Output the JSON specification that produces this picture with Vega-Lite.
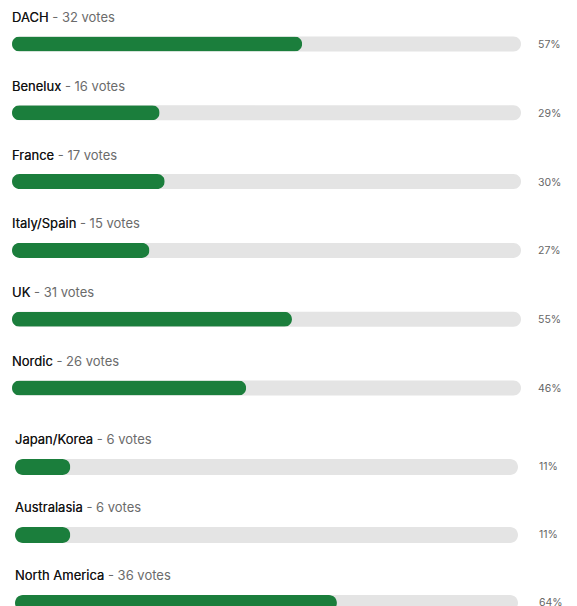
{
  "$schema": "https://vega.github.io/schema/vega-lite/v6.json",
  "background": "white",
  "padding": {"left": 12, "top": 12, "right": 10, "bottom": 0},
  "bounds": "flush",
  "center": true,
  "spacing": 79,
  "config": {"view": {"stroke": null}, "font": "Inter"},
  "datasets": {
    "top": [
      {"region": "DACH", "label": "DACH - 32 votes", "votes": 32, "pct": 57, "pctLabel": "57%"},
      {"region": "Benelux", "label": "Benelux - 16 votes", "votes": 16, "pct": 29, "pctLabel": "29%"},
      {"region": "France", "label": "France - 17 votes", "votes": 17, "pct": 30, "pctLabel": "30%"},
      {"region": "Italy/Spain", "label": "Italy/Spain - 15 votes", "votes": 15, "pct": 27, "pctLabel": "27%"},
      {"region": "UK", "label": "UK - 31 votes", "votes": 31, "pct": 55, "pctLabel": "55%"},
      {"region": "Nordic", "label": "Nordic - 26 votes", "votes": 26, "pct": 46, "pctLabel": "46%"}
    ],
    "bottom": [
      {"region": "Japan/Korea", "label": "Japan/Korea - 6 votes", "votes": 6, "pct": 11, "pctLabel": "11%"},
      {"region": "Australasia", "label": "Australasia - 6 votes", "votes": 6, "pct": 11, "pctLabel": "11%"},
      {"region": "North America", "label": "North America - 36 votes", "votes": 36, "pct": 64, "pctLabel": "64%"}
    ]
  },
  "vconcat": [
    {
      "width": 509,
      "height": 344,
      "data": {"name": "top"},
      "encoding": {
        "y": {"field": "region", "type": "nominal", "sort": null, "axis": null, "scale": {"type": "point", "padding": 0}}
      },
      "layer": [
        {
          "mark": {"type": "bar", "size": 15, "cornerRadius": 7.5, "color": "#e4e4e4"},
          "encoding": {"x": {"datum": 100, "type": "quantitative", "scale": {"domain": [0, 100]}, "axis": null}}
        },
        {
          "mark": {"type": "bar", "size": 15, "cornerRadius": 7.5, "color": "#1b7e3c"},
          "encoding": {"x": {"field": "pct", "type": "quantitative", "scale": {"domain": [0, 100]}, "axis": null}}
        },
        {
          "mark": {"type": "text", "align": "left", "baseline": "middle", "dy": -26, "fontSize": 13, "color": "#6b6b6b"},
          "encoding": {"x": {"datum": 0, "type": "quantitative"}, "text": {"field": "label"}}
        },
        {
          "mark": {"type": "text", "align": "left", "baseline": "middle", "dy": -26, "fontSize": 13, "fontWeight": 400, "color": "#111111"},
          "encoding": {"x": {"datum": 0, "type": "quantitative"}, "text": {"field": "region"}}
        },
        {
          "mark": {"type": "text", "align": "left", "baseline": "middle", "dx": 17, "dy": 1, "fontSize": 10.5, "color": "#666666"},
          "encoding": {"x": {"datum": 100, "type": "quantitative"}, "text": {"field": "pctLabel"}}
        }
      ]
    },
    {
      "width": 503,
      "height": 136,
      "data": {"name": "bottom"},
      "encoding": {
        "y": {"field": "region", "type": "nominal", "sort": null, "axis": null, "scale": {"type": "point", "padding": 0}}
      },
      "layer": [
        {
          "mark": {"type": "bar", "size": 16, "cornerRadius": 8, "color": "#e4e4e4"},
          "encoding": {"x": {"datum": 100, "type": "quantitative", "scale": {"domain": [0, 100]}, "axis": null}}
        },
        {
          "mark": {"type": "bar", "size": 16, "cornerRadius": 8, "color": "#1b7e3c"},
          "encoding": {"x": {"field": "pct", "type": "quantitative", "scale": {"domain": [0, 100]}, "axis": null}}
        },
        {
          "mark": {"type": "text", "align": "left", "baseline": "middle", "dy": -27, "fontSize": 13, "color": "#6b6b6b"},
          "encoding": {"x": {"datum": 0, "type": "quantitative"}, "text": {"field": "label"}}
        },
        {
          "mark": {"type": "text", "align": "left", "baseline": "middle", "dy": -27, "fontSize": 13, "fontWeight": 400, "color": "#111111"},
          "encoding": {"x": {"datum": 0, "type": "quantitative"}, "text": {"field": "region"}}
        },
        {
          "mark": {"type": "text", "align": "left", "baseline": "middle", "dx": 21, "dy": 0, "fontSize": 10.5, "color": "#666666"},
          "encoding": {"x": {"datum": 100, "type": "quantitative"}, "text": {"field": "pctLabel"}}
        }
      ]
    }
  ]
}
